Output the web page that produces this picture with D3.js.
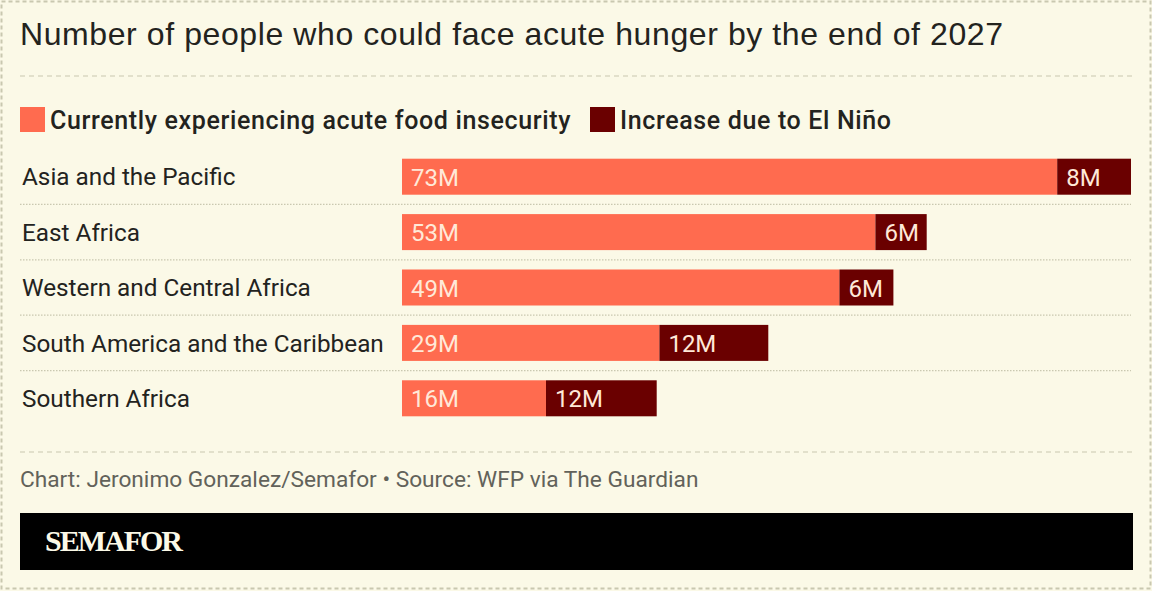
<!DOCTYPE html>
<html>
<head>
<meta charset="utf-8">
<script src="https://cdn.jsdelivr.net/npm/d3@7/dist/d3.min.js"></script>
<style>
html, body { margin: 0; padding: 0; background: #fbf9e7; }
svg { display: block; }
text { font-family: Roboto, sans-serif; }
</style>
</head>
<body>
<svg id="chart" width="1152" height="591"></svg>
<script>
var regions = ["Asia and the Pacific", "East Africa", "Western and Central Africa", "South America and the Caribbean", "Southern Africa"];
var currentHungry = [72.8, 52.6, 48.6, 28.6, 16];
var elNinoIncrease = [8.2, 5.7, 6, 12.1, 12.3];
var legendLabels = ["Currently experiencing acute food insecurity", "Increase due to El Niño"];

var coral = "#ff6b4f", maroon = "#6a0000", paper = "#fbf9e7", ink = "#23231e";
var rule = "#c9c8b0";

var svg = d3.select("#chart");

var x = d3.scaleLinear().domain([0, 81]).range([402, 1131]);
var y = d3.scaleBand().domain(regions).range([149, 426]).paddingInner(0.35).paddingOuter(0.175);

// outer border + dashed rules
svg.append("rect")
	.attr("x", 1.5).attr("y", 1.5).attr("width", 1149).attr("height", 587)
	.attr("fill", "none").attr("stroke", rule).attr("stroke-width", 2).attr("stroke-dasharray", "4 3");

[76, 452].forEach(function(d){
	svg.append("line")
		.attr("x1", 20).attr("x2", 1133).attr("y1", d).attr("y2", d)
		.attr("stroke", rule).attr("stroke-width", 1.2).attr("stroke-dasharray", "5 4");
});

svg.append("text")
	.attr("x", 20).attr("y", 45)
	.attr("fill", ink)
	.style("font-family", "'Liberation Sans', sans-serif")
	.style("font-size", "32px")
	.style("letter-spacing", "0.59px")
	.text("Number of people who could face acute hunger by the end of 2027");

// legend
var legendX = [20, 590];
var legend = svg.selectAll(".legendItem")
	.data(legendLabels)
	.enter()
	.append("g")
	.classed("legendItem", true)
	.attr("transform", function(d, i){ return "translate(" + legendX[i] + ",107)"; });

legend.append("rect")
	.attr("width", 25).attr("height", 25)
	.attr("fill", function(d, i){ return i == 0 ? coral : maroon; });

legend.append("text")
	.attr("x", 30).attr("y", 22)
	.attr("fill", ink)
	.style("font-size", "25px")
	.style("font-weight", 500)
	.style("letter-spacing", "0.64px")
	.text(function(d){ return d; });

// dotted separators between the rows
svg.selectAll(".separator")
	.data(regions.slice(0, -1))
	.enter()
	.append("line")
	.classed("separator", true)
	.attr("x1", 20).attr("x2", 1131)
	.attr("y1", function(d){ return y(d) + y.bandwidth() + y.step() * 0.175; })
	.attr("y2", function(d){ return y(d) + y.bandwidth() + y.step() * 0.175; })
	.attr("stroke", rule).attr("stroke-width", 1.2).attr("stroke-dasharray", "1.5 1.5");

// region names
var yAxis = d3.axisLeft(y).tickSize(0).tickPadding(0);
var yAxisG = svg.append("g")
	.attr("transform", "translate(22,1)")
	.call(yAxis);
yAxisG.select(".domain").remove();
yAxisG.selectAll("text")
	.attr("text-anchor", "start")
	.attr("fill", ink)
	.style("font-family", "Roboto, sans-serif")
	.style("font-size", "24.3px");

// bars
var rows = svg.selectAll(".row")
	.data(regions)
	.enter()
	.append("g")
	.classed("row", true);

rows.append("rect")
	.attr("x", x(0))
	.attr("y", function(d){ return y(d); })
	.attr("height", y.bandwidth())
	.attr("width", function(d, i){ return x(currentHungry[i]) - x(0); })
	.attr("fill", coral);

rows.append("rect")
	.attr("x", function(d, i){ return x(currentHungry[i]); })
	.attr("y", function(d){ return y(d); })
	.attr("height", y.bandwidth())
	.attr("width", function(d, i){ return x(currentHungry[i] + elNinoIncrease[i]) - x(currentHungry[i]); })
	.attr("fill", maroon);

rows.append("text")
	.attr("x", x(0) + 9)
	.attr("y", function(d){ return y(d) + y.bandwidth() / 2 + 9; })
	.attr("fill", "#ffe9d8")
	.style("font-size", "24px")
	.text(function(d, i){ return Math.round(currentHungry[i]) + "M"; });

rows.append("text")
	.attr("x", function(d, i){ return x(currentHungry[i]) + 9; })
	.attr("y", function(d){ return y(d) + y.bandwidth() / 2 + 9; })
	.attr("fill", "#ffe9d8")
	.style("font-size", "24px")
	.text(function(d, i){ return Math.round(elNinoIncrease[i]) + "M"; });

// footer
svg.append("text")
	.attr("x", 20).attr("y", 487)
	.attr("fill", "#62625a")
	.style("font-size", "22.7px")
	.text("Chart: Jeronimo Gonzalez/Semafor • Source: WFP via The Guardian");

svg.append("rect")
	.attr("x", 20).attr("y", 513).attr("width", 1113).attr("height", 57)
	.attr("fill", "#000");

svg.append("text")
	.attr("x", 45).attr("y", 551)
	.attr("fill", paper)
	.style("font-family", "'Liberation Serif', serif")
	.style("font-weight", 700)
	.style("font-size", "30px")
	.style("letter-spacing", "-2px")
	.text("SEMAFOR");
</script>
</body>
</html>
